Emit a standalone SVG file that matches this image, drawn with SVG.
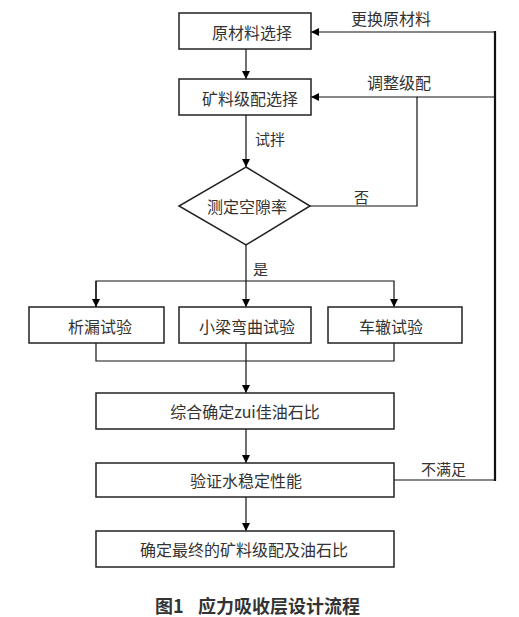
<svg xmlns="http://www.w3.org/2000/svg" width="519" height="617" viewBox="0 0 519 617">
<style>
.box{fill:#fff;stroke:#222;stroke-width:1.5}
.ln{fill:none;stroke:#111;stroke-width:1.2}
.t{font-family:"Noto Sans CJK SC","Noto Sans",sans-serif;fill:#333;dominant-baseline:central}
.s16{font-size:16px}
.s15{font-size:15px}
.mid{text-anchor:middle}
.cap{font-family:"Noto Sans CJK SC","Noto Sans",sans-serif;font-size:18px;font-weight:bold;fill:#333;dominant-baseline:central}
</style>
<defs>
<marker id="ah" viewBox="0 0 10 10" refX="10" refY="5" markerWidth="8" markerHeight="8" markerUnits="userSpaceOnUse" orient="auto">
<path d="M0,0 L10,5 L0,10 Z" fill="#000"/>
</marker>
</defs>
<rect width="519" height="617" fill="#fff"/>
<g id="connectors">
<line class="ln" x1="246" y1="49" x2="246" y2="79" marker-end="url(#ah)"/>
<line class="ln" x1="246" y1="115" x2="246" y2="167" marker-end="url(#ah)"/>
<polyline class="ln" points="246,245 246,281"/>
<polyline class="ln" points="96,307 96,281 394,281 394,307" marker-end="url(#ah)"/>
<path class="ln" d="M96,281 L96,307" marker-end="url(#ah)"/>
<line class="ln" x1="246" y1="281" x2="246" y2="307" marker-end="url(#ah)"/>
<polyline class="ln" points="96,343 96,361 394,361 394,343"/>
<line class="ln" x1="246" y1="343" x2="246" y2="393" marker-end="url(#ah)"/>
<line class="ln" x1="246" y1="429" x2="246" y2="463" marker-end="url(#ah)"/>
<line class="ln" x1="246" y1="497" x2="246" y2="531" marker-end="url(#ah)"/>
<polyline class="ln" points="310,206 417,206 417,97 311,97" marker-end="url(#ah)"/>
<line class="ln" x1="495" y1="97" x2="417" y2="97"/>
<polyline class="ln" points="394,480 495,480"/>
<line x1="495" y1="481" x2="495" y2="31" stroke="#111" stroke-width="2.2"/>
<line class="ln" x1="495" y1="32" x2="311" y2="32" marker-end="url(#ah)"/>
</g>
<g id="label-genghuan"><text class="t s16" x="351" y="18">更换原材料</text></g>
<g id="label-tiaozheng"><text class="t s16" x="367" y="82">调整级配</text></g>
<g id="label-shiban"><text class="t s15" x="255" y="138">试拌</text></g>
<g id="label-fou"><text class="t s15" x="354" y="196">否</text></g>
<g id="label-shi"><text class="t s15" x="253" y="268">是</text></g>
<g id="label-bumanzu"><text class="t s15" x="421" y="468">不满足</text></g>
<g id="n1"><rect class="box" x="179" y="13" width="132" height="36"/><text class="t s16 mid" x="252" y="32">原材料选择</text></g>
<g id="n2"><rect class="box" x="179" y="79" width="132" height="36"/><text class="t s16 mid" x="250" y="98">矿料级配选择</text></g>
<g id="n3"><path class="box" d="M246,167 L310,206 L246,245 L179,206 Z"/><text class="t s16 mid" x="247" y="206">测定空隙率</text></g>
<g id="n4"><rect class="box" x="29" y="307" width="135" height="36"/><text class="t s16 mid" x="100" y="326">析漏试验</text></g>
<g id="n5"><rect class="box" x="179" y="307" width="132" height="36"/><text class="t s16 mid" x="247" y="326">小梁弯曲试验</text></g>
<g id="n6"><rect class="box" x="328" y="307" width="134" height="36"/><text class="t s16 mid" x="391" y="326">车辙试验</text></g>
<g id="n7"><rect class="box" x="96" y="393" width="298" height="36"/><text class="t s16 mid" x="245" y="411">综合确定zui佳油石比</text></g>
<g id="n8"><rect class="box" x="96" y="463" width="298" height="34"/><text class="t s16 mid" x="246" y="480">验证水稳定性能</text></g>
<g id="n9"><rect class="box" x="96" y="531" width="298" height="36"/><text class="t s16 mid" x="244" y="549">确定最终的矿料级配及油石比</text></g>
<g id="caption"><text class="cap" y="605"><tspan x="155">图1</tspan><tspan x="198">应力吸收层设计流程</tspan></text></g>
</svg>
